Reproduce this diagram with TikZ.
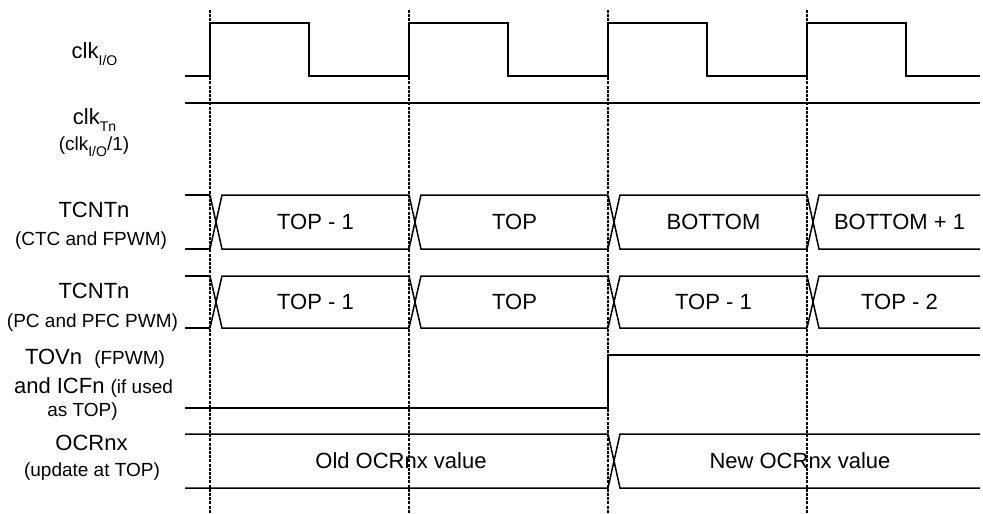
\documentclass[tikz,border=0pt]{standalone}
\usepackage{fontspec}
\setmainfont{Liberation Sans}
\usetikzlibrary{positioning,calc}

\newcommand{\sigfont}{\fontsize{22}{24}\selectfont}
\newcommand{\notefont}{\fontsize{19}{21}\selectfont}
\newcommand{\lsub}[1]{\raisebox{-0.32em}{\fontsize{14}{14}\selectfont #1}}

\tikzset{
    sig/.style={line width=1.5pt, line join=miter},
    edge/.style={line width=1.2pt, dash pattern=on 3pt off 1.2pt},
    lbl/.style={anchor=base, inner sep=0pt, font=\sigfont},
    note/.style={anchor=base, inner sep=0pt, font=\notefont},
    val/.style={inner sep=0pt, font=\sigfont}
}

\begin{document}
\begin{tikzpicture}[x=1pt,y=-1pt]
    \useasboundingbox (0,0) rectangle (983,514);
    % Clock edges
    \foreach \x in {210,409,608,807} {
        \draw [edge] (\x,10) -- (\x,514);
    }
    % clk I/O and clk Tn
    \draw [sig] (185,76) -- (210,76) -- (210,23) -- (309,23) -- (309,76)
        -- (409,76) -- (409,23) -- (508,23) -- (508,76)
        -- (608,76) -- (608,23) -- (707,23) -- (707,76)
        -- (807,76) -- (807,23) -- (906,23) -- (906,76) -- (980,76);
    \draw [sig] (185,103) -- (980,103);
    % TCNTn (CTC and FPWM)
    \draw [sig] (185,195) -- (210,195) (185,249) -- (210,249);
    \foreach \x/\e/\t [count=\i] in {210/409/TOP - 1, 409/608/TOP, 608/807/BOTTOM, 807/980/BOTTOM + 1} {
        \draw [sig] (\x,195) -- (\x+12,249) -- (\e,249);
        \draw [sig] (\x,249) -- (\x+12,195) -- (\e,195);
        \node [val] (ctc\i) at ({(\x+12+\e)/2},222) {\t};
    }
    % TCNTn (PC and PFC PWM)
    \draw [sig] (185,276) -- (210,276) (185,328) -- (210,328);
    \foreach \x/\e/\t [count=\i] in {210/409/TOP - 1, 409/608/TOP, 608/807/TOP - 1, 807/980/TOP - 2} {
        \draw [sig] (\x,276) -- (\x+12,328) -- (\e,328);
        \draw [sig] (\x,328) -- (\x+12,276) -- (\e,276);
        \node [val] (pc\i) at ({(\x+12+\e)/2},302) {\t};
    }
    % TOVn
    \draw [sig] (185,408) -- (608,408) -- (608,355) -- (980,355);
    % OCRnx
    \draw [sig] (185,434) -- (608,434) -- (620,488) -- (980,488);
    \draw [sig] (185,488) -- (608,488) -- (620,434) -- (980,434);
    \node [val] (ocrold) at (401,461) {Old OCRnx value};
    \node [val] (ocrnew) at (800,461) {New OCRnx value};

    % Signal names
    \node [lbl] (nclkio) at (94.5,58) {clk\lsub{I/O}};
    \node [lbl] (nclktn) at (94.5,124) {clk\lsub{Tn}};
    \node [note] (nclkdiv) at (94,150) {(clk\lsub{I/O}/1)};
    \node [lbl] (nctc) at (94,217) {TCNTn};
    \node [note] (nctcmode) at (91,245) {(CTC and FPWM)};
    \node [lbl] (npc) at (94,298) {TCNTn};
    \node [note] (npcmode) at (92.5,327) {(PC and PFC PWM)};
    \node [lbl] (ntov) at (95,364) {TOVn~ {\notefont(FPWM)}};
    \node [lbl] (nicf) at (93.5,393) {and ICFn {\notefont(if used}};
    \node [note] (nicftop) at (82.5,416) {as TOP)};
    \node [lbl] (nocr) at (91.5,450) {OCRnx};
    \node [note] (nocrupd) at (92,476) {(update at TOP)};
\end{tikzpicture}
\end{document}
